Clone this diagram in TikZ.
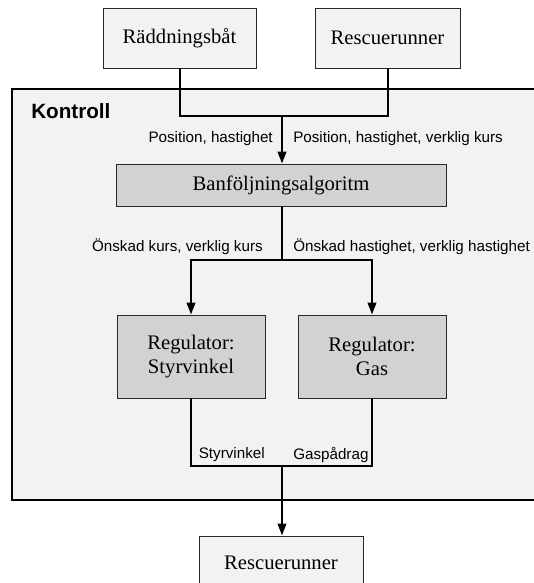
\documentclass[tikz,border=0pt]{standalone}
\usepackage{fontspec}
\setmainfont{Liberation Serif}
\setsansfont{Liberation Sans}
\usetikzlibrary{arrows.meta}
\definecolor{ctrlbg}{RGB}{242,242,242}
\definecolor{blockbg}{RGB}{210,210,210}
\definecolor{boxline}{RGB}{40,40,40}

\begin{document}
\begin{tikzpicture}[x=0.75pt,y=0.75pt,yscale=-1,xscale=1,
	extbox/.style={draw=boxline,line width=0.75,fill=ctrlbg,font=\fontsize{15.5}{17.5}\selectfont,align=center,inner sep=0pt},
	algbox/.style={extbox,fill=blockbg},
	sig/.style={font=\fontsize{11.4}{13}\sffamily,inner sep=0.75pt},
	wire/.style={line width=1.5,line cap=rect},
	flow/.style={wire,-{Triangle[length=9pt,width=6.5pt]}}]
	\path[use as bounding box] (0,0) rectangle (534,583);
	\clip (0,0) rectangle (534,583);
	\fill[white] (0,0) rectangle (534,583);
	\draw [fill=ctrlbg,line width=1.1] (12,89) rectangle (570,500);
	\node (kontroll) at (31,111) [anchor=west,inner sep=0pt,font=\fontsize{15.5}{17}\sffamily\bfseries] {Kontroll};
	\node (rb) at (179.5,38) [extbox,minimum width=114.75pt,minimum height=45pt] {Räddningsbåt};
	\node (rr) at (387.5,38) [extbox,minimum width=108.75pt,minimum height=45pt] {Rescuerunner};
	\node (banf) at (281,185) [algbox,minimum width=247.5pt,minimum height=31.5pt] {Banföljningsalgoritm};
	\node (regs) at (191,356.5) [algbox,minimum width=111pt,minimum height=62.25pt] {Regulator:\\Styrvinkel};
	\node (regg) at (372,356.5) [algbox,minimum width=111pt,minimum height=62.25pt] {Regulator:\\Gas};
	\node (ut) at (281,563) [extbox,minimum width=123pt,minimum height=40.5pt] {Rescuerunner};
	\coordinate (jtop) at (282,116);
	\coordinate (jmid) at (282,260);
	\coordinate (jbot) at (282,466);
	\draw [wire] (rb.south) |- (jtop);
	\draw [wire] (rr.south) |- (jtop);
	\draw [flow] (jtop) -- (banf.north -| jtop);
	\draw [wire] (banf.south -| jmid) -- (jmid);
	\draw [flow] (jmid) -| (regs.north);
	\draw [flow] (jmid) -| (regg.north);
	\draw [wire] (regs.south) |- (jbot);
	\draw [wire] (regg.south) |- (jbot);
	\draw [flow] (jbot) -- (ut.north -| jbot);
	\node (pos1) at (274,139) [sig,anchor=east] {Position, hastighet};
	\node (pos2) at (292,139) [sig,anchor=west] {Position, hastighet, verklig kurs};
	\node (kurs) at (264,247) [sig,anchor=east] {Önskad kurs, verklig kurs};
	\node (hast) at (292,247) [sig,anchor=west] {Önskad hastighet, verklig hastighet};
	\node (styr) at (266,455) [sig,anchor=east] {Styrvinkel};
	\node (gas) at (292,455) [sig,anchor=west] {Gaspådrag};
\end{tikzpicture}
\end{document}
